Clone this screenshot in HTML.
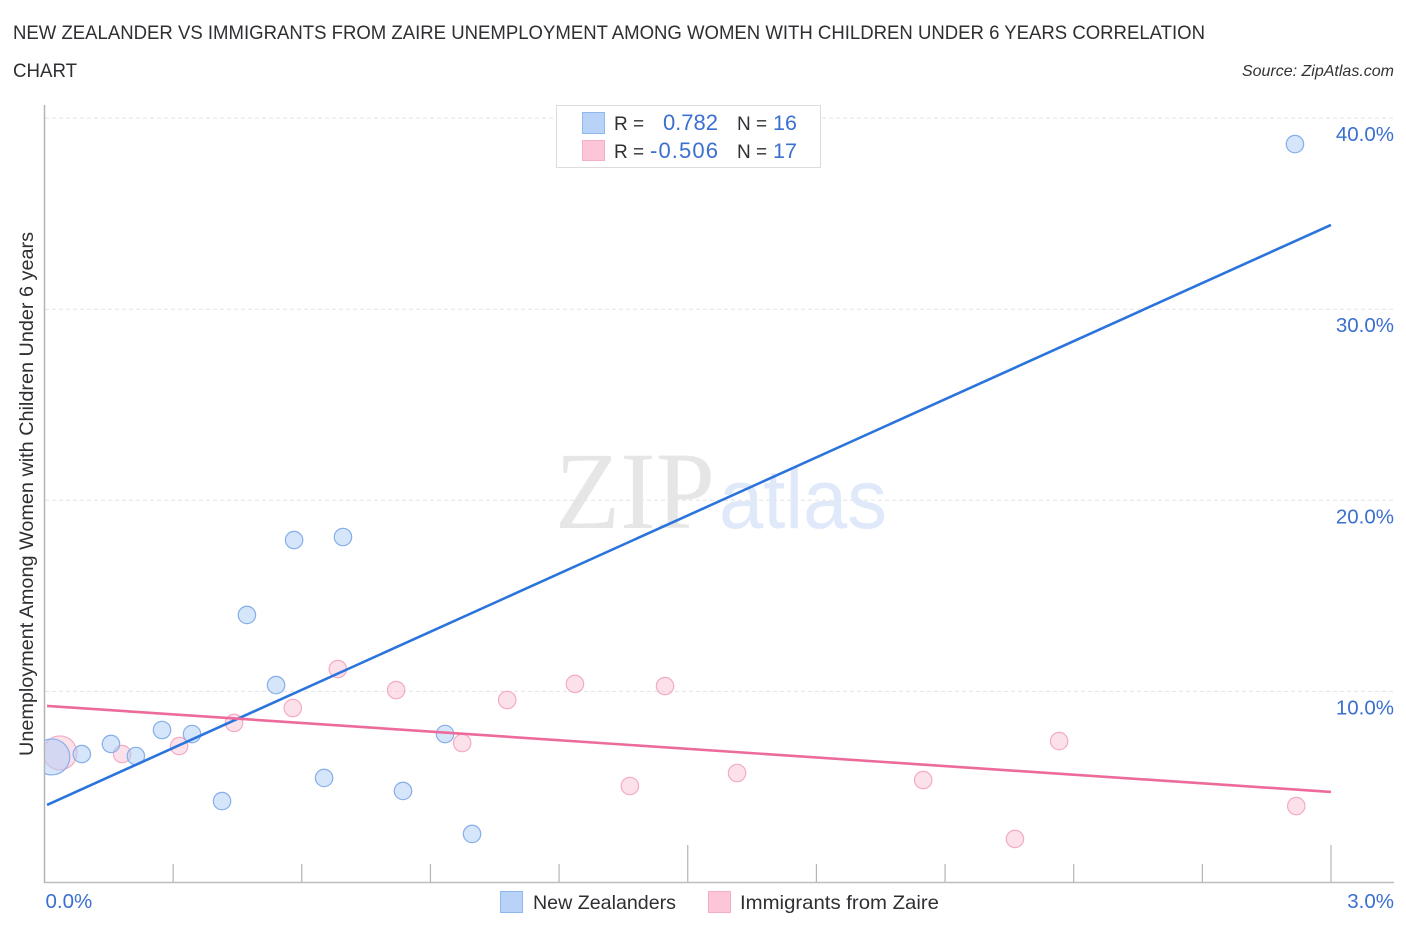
<!DOCTYPE html>
<html>
<head>
<meta charset="utf-8">
<title>New Zealander vs Immigrants from Zaire</title>
<style>
html,body{margin:0;padding:0;background:#fff;width:1406px;height:930px;overflow:hidden}
svg{display:block;font-family:"Liberation Sans",sans-serif}
.blue{fill:#3b6fd0}
.dark{fill:#2f2f33}
</style>
</head>
<body>
<svg id="chart" xmlns="http://www.w3.org/2000/svg" width="1406" height="930" viewBox="0 0 1406 930">
  <defs><clipPath id="plot-clip"><rect x="45" y="100" width="1360" height="782"/></clipPath></defs>
  <text x="13" y="39" font-size="19.5" fill="#2f2f33" textLength="1192" lengthAdjust="spacingAndGlyphs">NEW ZEALANDER VS IMMIGRANTS FROM ZAIRE UNEMPLOYMENT AMONG WOMEN WITH CHILDREN UNDER 6 YEARS CORRELATION</text>
  <text x="13" y="77" font-size="19.5" fill="#2f2f33" textLength="64" lengthAdjust="spacingAndGlyphs">CHART</text>
  <text x="1394" y="76" font-size="16" font-style="italic" fill="#333" text-anchor="end">Source: ZipAtlas.com</text>

  <g>
    <text x="555" y="528" font-family="'Liberation Serif',serif" font-size="110" fill="#e6e6e6" textLength="160" lengthAdjust="spacingAndGlyphs">ZIP</text>
    <text x="719" y="528" font-size="84" fill="#dfe9f9" textLength="168" lengthAdjust="spacingAndGlyphs" style="font-family:'Liberation Sans',sans-serif">atlas</text>
  </g>

  <g id="grid"></g>
  <g id="axes"></g>
  <g id="points" clip-path="url(#plot-clip)"></g>
  <g id="trends"></g>

  <text transform="translate(33,494) rotate(-90)" font-size="19" fill="#2f2f33" text-anchor="middle" textLength="524" lengthAdjust="spacingAndGlyphs">Unemployment Among Women with Children Under 6 years</text>

  <g>
    <rect x="556.5" y="105.5" width="264" height="62" fill="#fff" stroke="#dcdcdc"/>
    <rect x="582.5" y="112.5" width="22" height="21" fill="#b9d3f8" stroke="#8fb8ee"/>
    <rect x="582.5" y="140.5" width="22" height="20" fill="#fcc6d8" stroke="#f4aec6"/>
    <text class="dark" x="614" y="130" font-size="19">R =</text>
    <text class="blue" x="718" y="130" font-size="22" text-anchor="end">0.782</text>
    <text class="dark" x="737" y="130" font-size="19">N =</text>
    <text class="blue" x="773" y="130" font-size="21.5">16</text>
    <text class="dark" x="614" y="158" font-size="19">R =</text>
    <text class="blue" x="650" y="158" font-size="22" textLength="68" lengthAdjust="spacing">-0.506</text>
    <text class="dark" x="737" y="158" font-size="19">N =</text>
    <text class="blue" x="773" y="158" font-size="21.5">17</text>
  </g>

  <g>
    <rect x="500.5" y="891.5" width="22" height="21" fill="#b9d3f8" stroke="#8fb8ee"/>
    <text class="dark" x="533" y="909" font-size="19.5" textLength="143" lengthAdjust="spacingAndGlyphs">New Zealanders</text>
    <rect x="708.5" y="891.5" width="22" height="21" fill="#fcc6d8" stroke="#f4aec6"/>
    <text class="dark" x="740" y="909" font-size="19.5" textLength="199" lengthAdjust="spacingAndGlyphs">Immigrants from Zaire</text>
  </g>
</svg>
<script>
const yTickValues = [10, 20, 30, 40];
const yTickLabels = ["10.0%", "20.0%", "30.0%", "40.0%"];
const xTickValues = [0, 0.3, 0.6, 0.9, 1.2, 1.5, 1.8, 2.1, 2.4, 2.7, 3.0];
const xEndValues = [0, 3];
const xEndLabels = ["0.0%", "3.0%"];

const blueX = [0.017, 0.087, 0.155, 0.213, 0.274, 0.344, 0.414, 0.472, 0.540, 0.582, 0.652, 0.696, 0.836, 0.934, 0.997, 2.916];
const blueY = [6.57, 6.72, 7.25, 6.62, 7.98, 7.77, 4.26, 14.0, 10.33, 17.92, 5.47, 18.08, 4.79, 7.77, 2.54, 38.64];
const pinkX = [0.036, 0.181, 0.314, 0.442, 0.579, 0.684, 0.820, 0.974, 1.079, 1.237, 1.365, 1.447, 1.615, 2.049, 2.263, 2.366, 2.919];
const pinkY = [6.78, 6.72, 7.14, 8.35, 9.13, 11.17, 10.07, 7.30, 9.55, 10.39, 5.05, 10.28, 5.73, 5.36, 2.28, 7.40, 4.0];

const blueTrendX = [0.006, 3.0];
const blueTrendY = [4.06, 34.41];
const pinkTrendX = [0.006, 3.0];
const pinkTrendY = [9.24, 4.74];

function xScale(v) { return 44.5 + v * 428.83; }
function yScale(v) { return 882.5 - v * 19.11; }

const NS = 'http://www.w3.org/2000/svg';
function make(tag, parent, attrs, text) {
  const el = document.createElementNS(NS, tag);
  for (const k in attrs) el.setAttribute(k, attrs[k]);
  if (text !== undefined) el.textContent = text;
  parent.appendChild(el);
  return el;
}
const grid = document.getElementById('grid');
const axes = document.getElementById('axes');
const pts = document.getElementById('points');
const trends = document.getElementById('trends');

yTickValues.forEach(function (v, i) {
  const line = make('line', grid, {x1: 45, x2: 1394, y1: yScale(v), y2: yScale(v), stroke: '#e4e4e4', 'stroke-width': 1, 'stroke-dasharray': '4 3'});
  
  
  const label = make('text', axes, {x: 1394, y: yScale(v) + 23, 'font-size': 20.5, fill: '#3b6fd0', 'text-anchor': 'end'}, yTickLabels[i]);
  
  
});

const yAxis = make('line', axes, {x1: 44.5, x2: 44.5, y1: 105, y2: 883, stroke: '#b4b4b4', 'stroke-width': 1.5});


const xAxis = make('line', axes, {x1: 44, x2: 1394, y1: 882.5, y2: 882.5, stroke: '#bdbdbd', 'stroke-width': 1.5});



xTickValues.forEach(function (v, i) {
  if (i === 0) return;
  const major = (i === 5 || i === 10);
  const tick = make('line', axes, {x1: xScale(v), x2: xScale(v), y1: major ? 845 : 864, y2: 882, stroke: '#b4b4b4', 'stroke-width': 1.2});
  
  
});

xEndValues.forEach(function (v, i) {
  const label = make('text', axes, {x: i === 0 ? xScale(v) + 1 : 1394, y: 908, 'font-size': 20.5, fill: '#3b6fd0', 'text-anchor': i === 0 ? 'start' : 'end'}, xEndLabels[i]);
  
  
});

pinkX.forEach(function (v, i) {
  const c = make('circle', pts, {cx: xScale(v), cy: yScale(pinkY[i]), r: i === 0 ? 17 : 8.7, fill: '#f9bcd0', 'fill-opacity': 0.45, stroke: '#f3abc4', 'stroke-width': 1.2});
  
  
});
blueX.forEach(function (v, i) {
  const c = make('circle', pts, {cx: xScale(v), cy: yScale(blueY[i]), r: i === 0 ? 18 : 8.7, fill: '#b3cff5', 'fill-opacity': 0.55, stroke: '#86aeea', 'stroke-width': 1.2});
  
  
});

const blueLine = make('line', trends, {x1: xScale(blueTrendX[0]), y1: yScale(blueTrendY[0]), x2: xScale(blueTrendX[1]), y2: yScale(blueTrendY[1]), stroke: '#2b74dc', 'stroke-width': 2.6});


const pinkLine = make('line', trends, {x1: xScale(pinkTrendX[0]), y1: yScale(pinkTrendY[0]), x2: xScale(pinkTrendX[1]), y2: yScale(pinkTrendY[1]), stroke: '#ec6b9b', 'stroke-width': 2.6});


</script>
</body>
</html>
